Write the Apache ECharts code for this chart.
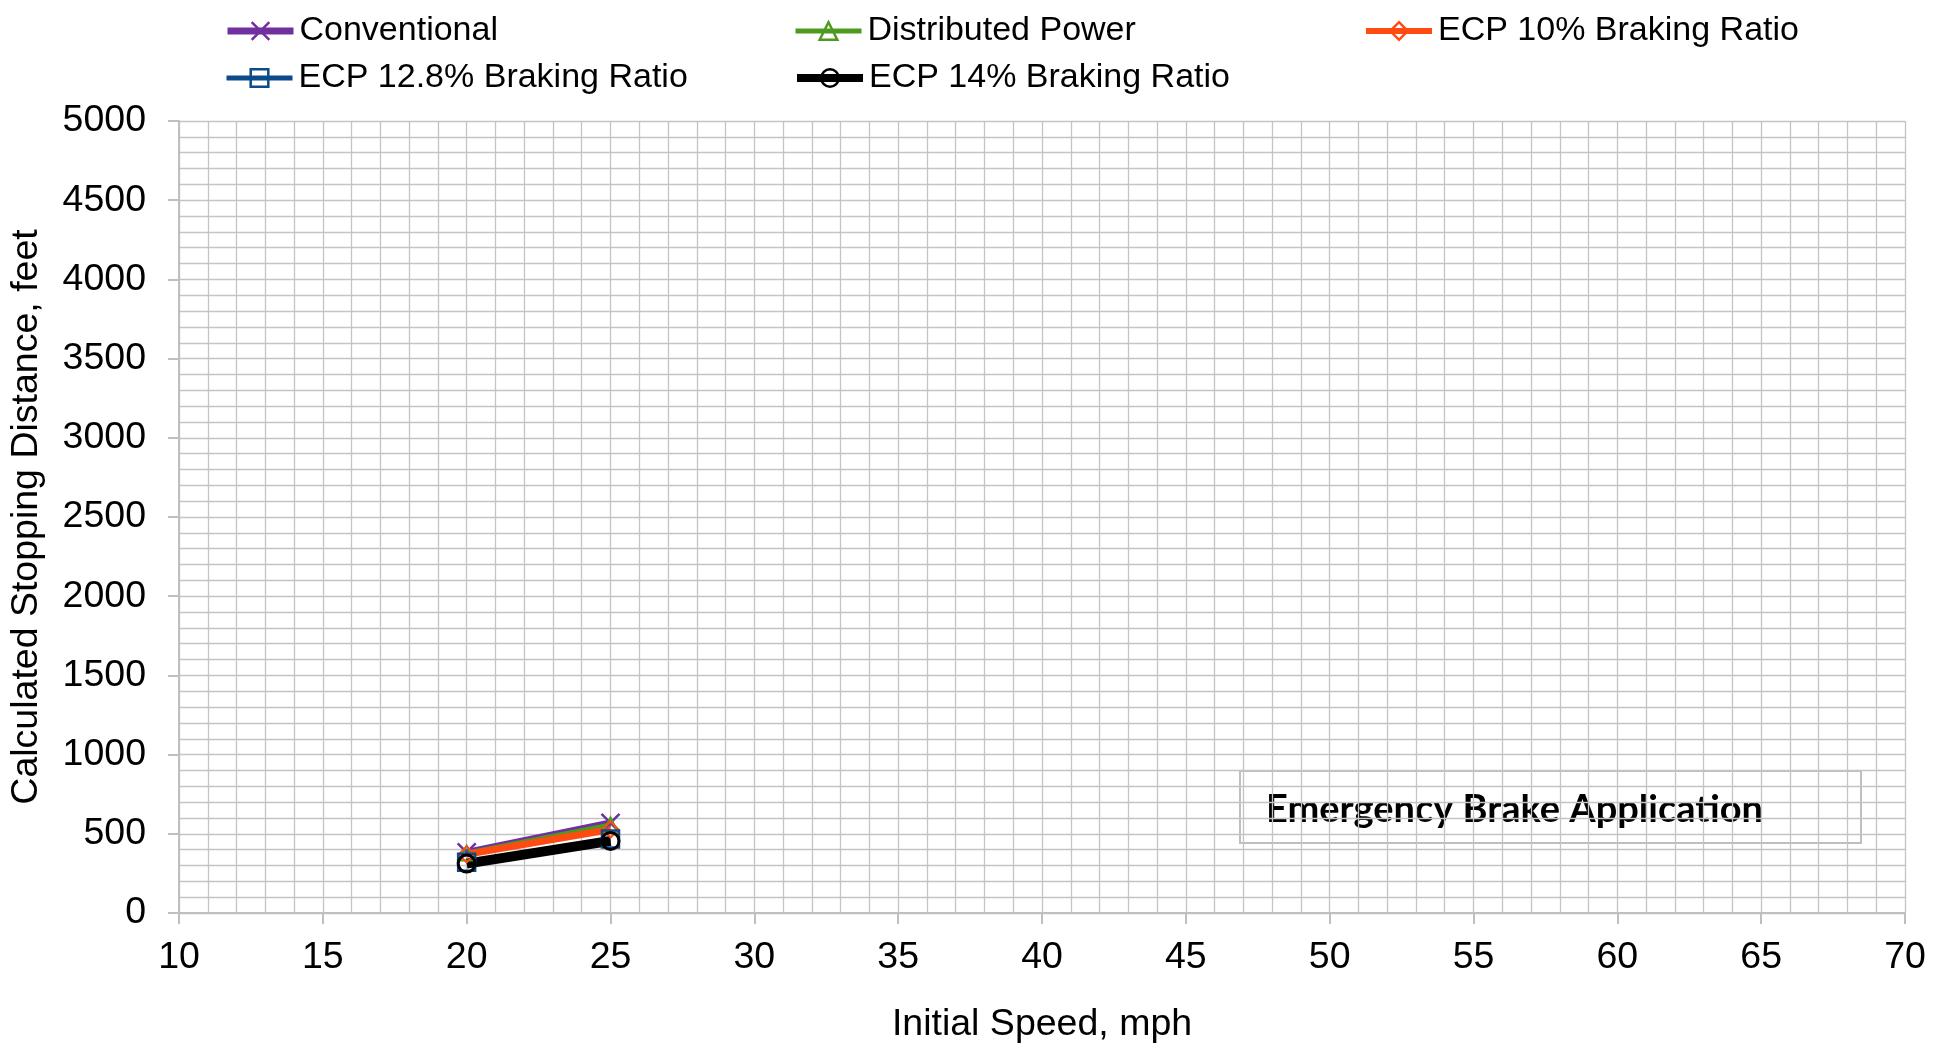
<!DOCTYPE html>
<html>
<head>
<meta charset="utf-8">
<script src="https://cdn.jsdelivr.net/npm/echarts@6/dist/echarts.min.js"></script>
<style>
  html, body { margin: 0; padding: 0; background: #fff; }
  #chart { width: 1934px; height: 1046px; }
</style>
</head>
<body>
<div id="chart"></div>
<script>
// Initial speed (mph) at which each stop was simulated
const speeds = [20, 25];

// Calculated stopping distance (feet) per braking configuration
const conventional = [383, 569];
const distributedPower = [378, 556];
const ecp10 = [370, 527];
const ecp128 = [320, 467];
const ecp14 = [312, 455];

const seriesNames = [
  'Conventional',
  'Distributed Power',
  'ECP 10% Braking Ratio',
  'ECP 12.8% Braking Ratio',
  'ECP 14% Braking Ratio'
];

const FONT = '"Liberation Sans", Arial, sans-serif';
const pairs = vals => speeds.map((s, i) => [s, vals[i]]);

function lineSeries(name, vals, color, width, symbol, size, border) {
  return {
    name: name,
    type: 'line',
    data: pairs(vals),
    symbol: symbol,
    symbolSize: size,
    showSymbol: true,
    lineStyle: { color: color, width: width },
    itemStyle: { color: 'rgba(0,0,0,0)', borderColor: color, borderWidth: border },
    emphasis: { disabled: true },
    animation: false
  };
}

const xMark = 'path://M0,0L10,10M10,0L0,10';

function legendAt(name, left, top, lineWidth) {
  return {
    data: [name],
    left: left,
    top: top,
    itemWidth: 66,
    itemHeight: 22,
    itemGap: 0,
    padding: 0,
    lineStyle: { width: lineWidth },
    itemStyle: { borderWidth: 2.5 },
    textStyle: { fontFamily: FONT, fontSize: 34, color: '#000', lineHeight: 34, padding: [0, 0, 0, 1] },
    selectedMode: false
  };
}

const gridLine = { color: '#c4c4c4', width: 1.3 };

const chart = echarts.init(document.getElementById('chart'));
chart.setOption({
  backgroundColor: '#fff',
  animation: false,
  legend: [
    legendAt(seriesNames[0], 224, 14, 7),
    legendAt(seriesNames[1], 793, 14, 5),
    legendAt(seriesNames[2], 1363, 14, 6),
    legendAt(seriesNames[3], 224, 61, 5),
    legendAt(seriesNames[4], 793, 61, 8)
  ],
  grid: { left: 179, right: 29, top: 121, bottom: 133, containLabel: false, outerBoundsMode: 'none' },
  xAxis: {
    type: 'value',
    min: 10, max: 70, interval: 5,
    name: 'Initial Speed, mph',
    nameLocation: 'middle',
    nameGap: 93,
    nameTextStyle: { fontFamily: FONT, fontSize: 37.5, color: '#000' },
    axisLine: { show: true, lineStyle: { color: '#bfbfbf', width: 2 } },
    axisTick: { show: true, length: 11, lineStyle: { color: '#bfbfbf', width: 2 } },
    axisLabel: { margin: 26, fontFamily: FONT, fontSize: 37.5, color: '#000' },
    splitLine: { show: true, lineStyle: gridLine },
    minorTick: { show: false, splitNumber: 5 },
    minorSplitLine: { show: true, lineStyle: gridLine }
  },
  yAxis: {
    type: 'value',
    min: 0, max: 5000, interval: 500,
    name: 'Calculated Stopping Distance, feet',
    nameLocation: 'middle',
    nameGap: 133,
    nameTextStyle: { fontFamily: FONT, fontSize: 37.5, color: '#000' },
    axisLine: { show: true, lineStyle: { color: '#bfbfbf', width: 2 } },
    axisTick: { show: true, length: 11, lineStyle: { color: '#bfbfbf', width: 2 } },
    axisLabel: { margin: 33, fontFamily: FONT, fontSize: 37.5, color: '#000', formatter: v => String(v) },
    splitLine: { show: true, lineStyle: gridLine },
    minorTick: { show: false, splitNumber: 5 },
    minorSplitLine: { show: true, lineStyle: gridLine }
  },
  series: [
    lineSeries(seriesNames[0], conventional, '#7030a0', 7, xMark, 18, 2.5),
    lineSeries(seriesNames[1], distributedPower, '#4e9a1e', 5, 'triangle', 15, 2),
    lineSeries(seriesNames[2], ecp10, '#ff4b12', 7, 'diamond', 16, 2),
    lineSeries(seriesNames[3], ecp128, '#0c4a8a', 5, 'rect', 17, 2.5),
    lineSeries(seriesNames[4], ecp14, '#000000', 10, 'circle', 17, 3)
  ],
  graphic: [
    {
      type: 'group',
      left: 1239,
      top: 770,
      children: [
        {
          type: 'rect',
          shape: { x: 0, y: 0, width: 621, height: 72 },
          style: { fill: '#fff', stroke: '#bfbfbf', lineWidth: 2 }
        },
        {
          type: 'text',
          x: 26,
          y: 39,
          style: {
            text: 'Emergency Brake Application',
            fontFamily: 'Lato',
            fontWeight: 'bold',
            fontSize: 38,
            fill: '#000',
            verticalAlign: 'middle'
          }
        }
      ]
    }
  ]
});
</script>
</body>
</html>
